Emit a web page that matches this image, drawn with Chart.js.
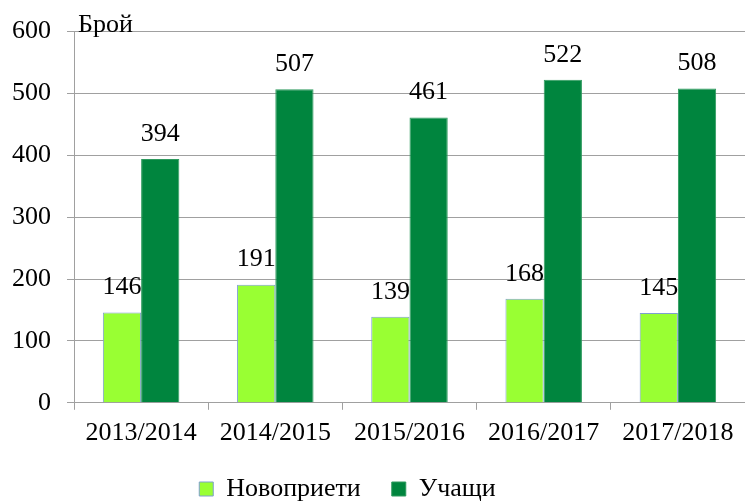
<!DOCTYPE html>
<html>
<head>
<meta charset="utf-8">
<script src="https://cdn.jsdelivr.net/npm/chart.js@4"></script>
<style>
  html, body { margin: 0; padding: 0; background: #fff; }
  #wrap { width: 745px; height: 501px; }
</style>
</head>
<body>
<div id="wrap"><canvas id="chart"></canvas></div>
<script>
// values
const years = ['2013/2014', '2014/2015', '2015/2016', '2016/2017', '2017/2018'];
const newcomers = [146, 191, 139, 168, 145];
const students = [394, 507, 461, 522, 508];
const yTicks = [0, 100, 200, 300, 400, 500, 600];

const serif = '"Liberation Serif", "Times New Roman", serif';

// value labels over the bars
const barLabels = {
    id: 'barLabels',
    afterDatasetsDraw(chart) {
        const ctx = chart.ctx;
        ctx.save();
        ctx.font = '26px ' + serif;
        ctx.fillStyle = '#000';
        ctx.textAlign = 'center';
        ctx.textBaseline = 'middle';
        chart.data.datasets.forEach((ds, i) => {
            chart.getDatasetMeta(i).data.forEach((bar, j) => {
                ctx.fillText(ds.data[j], bar.x, bar.y - 25);
            });
        });
        ctx.restore();
    }
};

// "Брой" caption at the top of the y axis
const axisCaption = {
    id: 'axisCaption',
    afterDraw(chart) {
        const ctx = chart.ctx;
        ctx.save();
        ctx.font = '26px ' + serif;
        ctx.fillStyle = '#000';
        ctx.textBaseline = 'alphabetic';
        ctx.fillText('Брой', chart.chartArea.left + 4, chart.chartArea.top);
        ctx.restore();
    }
};

// legend sits a bit left of centre (and a little higher) in the original
const legendShift = {
    id: 'legendShift',
    afterLayout(chart) {
        const lg = chart.legend;
        lg.left -= 25;
        lg.right -= 25;
        lg.top -= 12;
        lg.bottom -= 12;
    }
};

new Chart(document.getElementById('chart'), {
    type: 'bar',
    data: {
        labels: years,
        datasets: [
            {
                label: 'Новоприети',
                data: newcomers,
                backgroundColor: '#99FF33',
                borderColor: '#7F9FD0',
                borderWidth: 1
            },
            {
                label: 'Учащи',
                data: students,
                backgroundColor: '#00853E',
                borderColor: '#2E9A5E',
                borderWidth: 1
            }
        ]
    },
    options: {
        responsive: true,
        maintainAspectRatio: false,
        animation: false,
        categoryPercentage: 0.57,
        barPercentage: 1,
        layout: { padding: { top: 29, right: -4, left: -4, bottom: -23 } },
        scales: {
            x: {
                offset: true,
                grid: { offset: true, drawOnChartArea: false, drawTicks: true, tickLength: 7, color: '#A0A0A0' },
                border: { color: '#A0A0A0' },
                ticks: { font: { family: serif, size: 26 }, color: '#000', padding: 8 }
            },
            y: {
                min: 0,
                max: 600,
                afterBuildTicks(axis) { axis.ticks = yTicks.map(v => ({ value: v })); },
                grid: { color: '#A0A0A0', tickLength: 7 },
                border: { color: '#A0A0A0' },
                ticks: { font: { family: serif, size: 26 }, color: '#000', padding: 16 }
            }
        },
        plugins: {
            legend: {
                position: 'bottom',
                labels: {
                    font: { family: serif, size: 26 },
                    color: '#000',
                    boxWidth: 14,
                    boxHeight: 14,
                    padding: 31
                }
            },
            tooltip: { enabled: false }
        }
    },
    plugins: [barLabels, axisCaption, legendShift]
});
</script>
</body>
</html>
